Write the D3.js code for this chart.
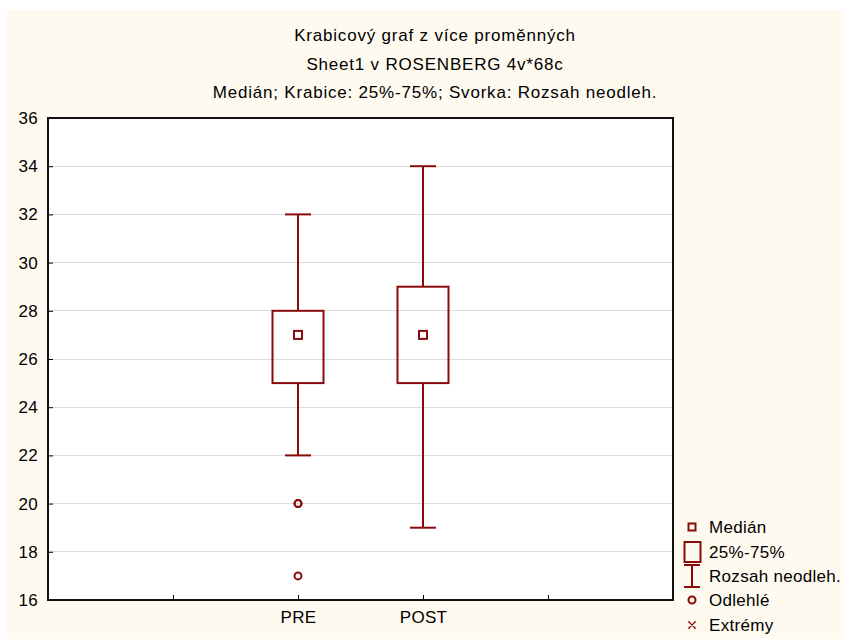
<!DOCTYPE html>
<meta charset="utf-8">
<style>
    body { margin: 0; background: #fff; }
    text { font-family: "Liberation Sans", Arial, sans-serif; fill: #000; }
</style>
<script src="https://d3js.org/d3.v7.min.js"></script>
<div id="chart"></div>
<script>
    // data
    var categories = ["PRE", "POST"];
    var medians = [27, 27];
    var q1 = [25, 25];
    var q3 = [28, 29];
    var whiskerLow = [22, 19];
    var whiskerHigh = [32, 34];
    var outliers = [[20, 20, 17], []];
    var yTicks = [16, 18, 20, 22, 24, 26, 28, 30, 32, 34, 36];
    var titles = ["Krabicový graf z více proměnných",
                  "Sheet1 v ROSENBERG 4v*68c",
                  "Medián; Krabice: 25%-75%; Svorka: Rozsah neodleh."];
    var legendLabels = ["Medián", "25%-75%", "Rozsah neodleh.", "Odlehlé", "Extrémy"];

    var width = 846, height = 639;
    var red = "#8b0a0a";
    var plot = {left: 48, top: 118, right: 673, bottom: 600};

    var svg = d3.select("#chart").append("svg").attr("width", width).attr("height", height);

    // beige background
    svg.append("rect").attr("x", 7).attr("y", 10).attr("width", 837).attr("height", 629)
        .attr("fill", "#fffaf0");

    // titles
    svg.selectAll(".title").data(titles).enter().append("text")
        .attr("x", 435).attr("y", function(d, i) { return 41 + i * 28.5; })
        .attr("text-anchor", "middle").attr("font-size", "17px")
        .attr("letter-spacing", "0.8px")
        .text(function(d) { return d; });

    // scales
    var y = d3.scaleLinear().domain([16, 36]).range([plot.bottom, plot.top]);
    var x = d3.scaleLinear().domain([0, 5]).range([plot.left, plot.right]);
    var catPos = function(i) { return x(i + 2); };

    svg.append("rect").attr("x", plot.left).attr("y", plot.top)
        .attr("width", plot.right - plot.left).attr("height", plot.bottom - plot.top)
        .attr("fill", "#fff");

    // grid
    svg.selectAll(".grid").data(yTicks.slice(1, -1)).enter().append("line")
        .attr("x1", plot.left).attr("x2", plot.right)
        .attr("y1", function(d) { return y(d); }).attr("y2", function(d) { return y(d); })
        .attr("stroke", "#dcdcdc").attr("stroke-width", 1).attr("shape-rendering", "crispEdges");

    // y axis
    var yAxis = d3.axisLeft(y).tickValues(yTicks).tickSize(-5).tickPadding(10);
    var gy = svg.append("g").attr("transform", "translate(" + plot.left + ",0)").call(yAxis);
    gy.select(".domain").remove();
    gy.selectAll("text").attr("font-size", "17px").attr("letter-spacing", "0.3px")
        .attr("font-family", "Liberation Sans, Arial, sans-serif").attr("fill", "#000");
    gy.selectAll("line").attr("stroke", "#000");

    // x axis
    var xAxis = d3.axisBottom(x).tickValues([1, 2, 3, 4]).tickSize(-5).tickPadding(11)
        .tickFormat(function(d) { return categories[d - 2] || ""; });
    var gx = svg.append("g").attr("transform", "translate(0," + plot.bottom + ")").call(xAxis);
    gx.select(".domain").remove();
    gx.selectAll("text").attr("font-size", "17px").attr("letter-spacing", "0.3px")
        .attr("font-family", "Liberation Sans, Arial, sans-serif").attr("fill", "#000");
    gx.selectAll("line").attr("stroke", "#000");

    // frame
    svg.append("rect").attr("x", plot.left).attr("y", plot.top)
        .attr("width", plot.right - plot.left).attr("height", plot.bottom - plot.top)
        .attr("fill", "none").attr("stroke", "#111").attr("stroke-width", 2);

    // boxes
    var boxW = 51, capW = 26;
    categories.forEach(function(c, i) {
        var cx = catPos(i);
        var g = svg.append("g").attr("stroke", red).attr("stroke-width", 2).attr("fill", "none");
        g.append("line").attr("x1", cx).attr("x2", cx).attr("y1", y(whiskerHigh[i])).attr("y2", y(q3[i]));
        g.append("line").attr("x1", cx).attr("x2", cx).attr("y1", y(q1[i])).attr("y2", y(whiskerLow[i]));
        g.append("line").attr("x1", cx - capW / 2).attr("x2", cx + capW / 2)
            .attr("y1", y(whiskerHigh[i])).attr("y2", y(whiskerHigh[i]));
        g.append("line").attr("x1", cx - capW / 2).attr("x2", cx + capW / 2)
            .attr("y1", y(whiskerLow[i])).attr("y2", y(whiskerLow[i]));
        g.append("rect").attr("x", cx - boxW / 2).attr("y", y(q3[i]))
            .attr("width", boxW).attr("height", y(q1[i]) - y(q3[i]));
        g.append("rect").attr("x", cx - 4).attr("y", y(medians[i]) - 4)
            .attr("width", 8).attr("height", 8);
        g.selectAll("circle").data(outliers[i]).enter().append("circle")
            .attr("cx", cx).attr("cy", function(d) { return y(d); }).attr("r", 3.5);
    });

    // legend
    var lx = 692, ly = [527, 552, 576, 600, 625];
    var lg = svg.append("g").attr("stroke", red).attr("stroke-width", 2).attr("fill", "none");
    lg.append("rect").attr("x", lx - 3.5).attr("y", ly[0] - 3.5).attr("width", 7).attr("height", 7);
    lg.append("rect").attr("x", lx - 7.5).attr("y", ly[1] - 10).attr("width", 16).attr("height", 20);
    lg.append("line").attr("x1", lx).attr("x2", lx).attr("y1", ly[2] - 11).attr("y2", ly[2] + 11);
    lg.append("line").attr("x1", lx - 8).attr("x2", lx + 8).attr("y1", ly[2] - 11).attr("y2", ly[2] - 11);
    lg.append("line").attr("x1", lx - 8).attr("x2", lx + 8).attr("y1", ly[2] + 11).attr("y2", ly[2] + 11);
    lg.append("circle").attr("cx", lx).attr("cy", ly[3]).attr("r", 3.5);
    var ex = lg.append("g").attr("stroke-width", 1.2);
    ex.append("path").attr("d", "M" + (lx - 3) + "," + (ly[4] - 3) + " L" + (lx + 3) + "," + (ly[4] + 3) +
        " M" + (lx + 3) + "," + (ly[4] - 3) + " L" + (lx - 3) + "," + (ly[4] + 3) +
        " M" + (lx - 3) + "," + (ly[4] - 4) + " L" + (lx - 3) + "," + (ly[4] - 2) +
        " M" + (lx + 3) + "," + (ly[4] - 4) + " L" + (lx + 3) + "," + (ly[4] - 2) +
        " M" + (lx - 3) + "," + (ly[4] + 4) + " L" + (lx - 3) + "," + (ly[4] + 2) +
        " M" + (lx + 3) + "," + (ly[4] + 4) + " L" + (lx + 3) + "," + (ly[4] + 2));

    svg.selectAll(".leg").data(legendLabels).enter().append("text")
        .attr("x", 709).attr("y", function(d, i) { return ly[i] + 6; })
        .attr("font-size", "17px").attr("letter-spacing", "0.3px").text(function(d) { return d; });
</script>
